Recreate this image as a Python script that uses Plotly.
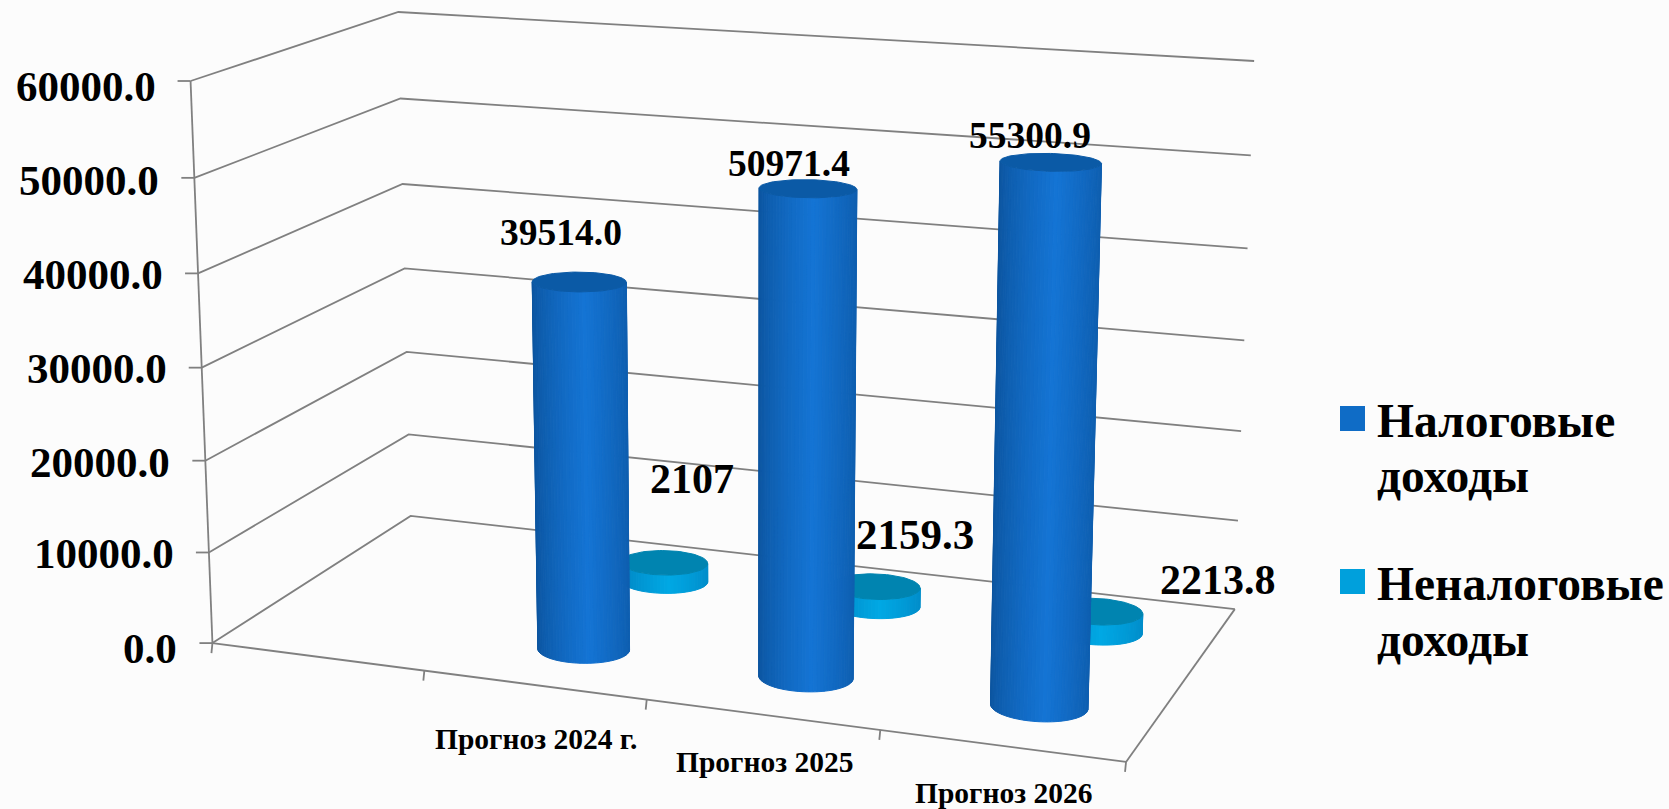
import numpy as np
import plotly.graph_objects as go

# ---- data ----
categories = ["", "Прогноз 2024 г.", "Прогноз 2025", "Прогноз 2026"]
series_names = ["Налоговые доходы", "Неналоговые доходы"]
tax_income = [None, 39514.0, 50971.4, 55300.9]
nontax_income = [None, 2107.0, 2159.3, 2213.8]
value_labels_tax = ["39514.0", "50971.4", "55300.9"]
value_labels_nontax = ["2107", "2159.3", "2213.8"]
axis_values = [0, 10000, 20000, 30000, 40000, 50000, 60000]
axis_labels = ["0.0", "10000.0", "20000.0", "30000.0", "40000.0", "50000.0", "60000.0"]
axis_max = 60000.0

# ---- view: box corners (u along categories, v depth, h height) -> page pixels ----
W, H = 1669, 809
box_world = [(0,0,0),(1,0,0),(0,1,0),(1,1,0),(0,0,1),(0,1,1),(1,1,1)]
box_page = [(213,643),(1126,762),(410,516),(1235,609),(190,81),(399,12),(1254,61)]
rows = []
for (X,Y,Z),(px,py) in zip(box_world, box_page):
    px, py = px/1000, py/1000
    rows.append([X,Y,Z,1,0,0,0,0,-px*X,-px*Y,-px*Z,-px])
    rows.append([0,0,0,0,X,Y,Z,1,-py*X,-py*Y,-py*Z,-py])
P = np.linalg.svd(np.array(rows, float))[2][-1].reshape(3,4)

def proj(u, v, value):
    h = np.asarray(value, float)/axis_max
    u, v = np.broadcast_arrays(np.asarray(u, float), np.asarray(v, float))
    w = P[2,0]*u+P[2,1]*v+P[2,2]*h+P[2,3]
    return 1000*(P[0,0]*u+P[0,1]*v+P[0,2]*h+P[0,3])/w, 1000*(P[1,0]*u+P[1,1]*v+P[1,2]*h+P[1,3])/w

FONT = "Liberation Serif"
BLACK = "#000000"
GRID = "#808080"
fig = go.Figure()

# ---- walls ----
gx, gy = [], []
for val in axis_values:
    a = proj(0,0,val); b = proj(0,1,val); c = proj(1,1,val)
    gx += [float(a[0]),float(b[0]),float(c[0]),None]
    gy += [float(a[1]),float(b[1]),float(c[1]),None]
for p,q in [((0,0,0),(0,0,axis_max)),((0,0,0),(1,0,0)),((1,0,0),(1,1,0))]:
    a = proj(*p); b = proj(*q)
    gx += [float(a[0]),float(b[0]),None]; gy += [float(a[1]),float(b[1]),None]
for val in axis_values:
    a = proj(0,0,val)
    gx += [float(a[0])-13,float(a[0]),None]; gy += [float(a[1]),float(a[1]),None]
for i in range(len(categories)+1):
    a = proj(i/len(categories),0,0)
    gx += [float(a[0]),float(a[0])-1,None]; gy += [float(a[1]),float(a[1])+10,None]
fig.add_trace(go.Scatter(x=gx,y=gy,mode="lines",line=dict(color=GRID,width=1.8),hoverinfo="skip",showlegend=False,name="grid"))

# ---- cylinders ----
def lerp(a,b,f):
    return "rgb(%d,%d,%d)"%tuple(round(a[i]+(b[i]-a[i])*f) for i in range(3))

def cylinder(uc, vc, value, name, edge, mid, top):
    ru, rv = 0.0495, 0.09
    t = np.linspace(0, 2*np.pi, 720, endpoint=False)
    bx, by = proj(uc+ru*np.cos(t), vc+rv*np.sin(t), 0*t)
    tx, ty = proj(uc+ru*np.cos(t), vc+rv*np.sin(t), 0*t+value)
    l, r = int(np.argmin(bx)), int(np.argmax(bx))
    arc1 = np.arange(l, l+((r-l)%720)+1)%720
    arc2 = np.arange(r, r+((l-r)%720)+1)%720
    arc = arc1 if by[arc1].mean() > by[arc2].mean() else arc2[::-1]
    idx = arc[np.linspace(0, len(arc)-1, 41).astype(int)]
    x0, x1 = bx[l], bx[r]
    for a, b in zip(idx[:-1], idx[1:]):
        f = ((bx[a]+bx[b])/2-x0)/(x1-x0)
        g = min(1, (1-abs(f-0.56)/0.56))
        col = lerp(edge, mid, g**0.7)
        fig.add_trace(go.Scatter(x=[bx[a],bx[b],tx[b],tx[a],bx[a]],y=[by[a],by[b],ty[b],ty[a],by[a]],
            mode="lines",fill="toself",fillcolor=col,line=dict(color=col,width=1),hoverinfo="skip",showlegend=False,name=name))
    fig.add_trace(go.Scatter(x=tx[::8],y=ty[::8],mode="lines",fill="toself",fillcolor=lerp(top,top,0),
        line=dict(color=lerp(top,top,0),width=1),hoverinfo="skip",showlegend=False,name=name))

n = len(categories)
for i in range(1, n):
    u = (i+0.5)/n
    cylinder(u+0.001, 0.745, nontax_income[i], series_names[1], (0,128,190), (0,168,228), (0,132,176))
    cylinder(u+0.005, 0.245, tax_income[i], series_names[0], (12,84,158), (20,116,212), (11,90,166))

# ---- text ----
ann = []
def text(x, y, s, size, anchor="center"):
    ann.append(dict(x=x,y=y,xref="x",yref="y",text=f"<b>{s}</b>",showarrow=False,xanchor=anchor,yanchor="middle",
                    font=dict(family=FONT,size=size,color=BLACK)))
tick_label_dy = [5,1,2,1,1,3,5]
for val, lab, dy in zip(axis_values, axis_labels, tick_label_dy):
    a = proj(0,0,val)
    text(float(a[0])-33, float(a[1])+dy, lab, 43, "right")
cat_label_dy = [54,47,47]
for i, dy in zip(range(1, n), cat_label_dy):
    a = proj((i+0.5)/n,0,0)
    text(float(a[0])+2, float(a[1])+dy, categories[i], 29.5)
for (x,y),s in zip([(561,232),(789,163),(1030,135)], value_labels_tax):
    text(x,y,s,37.5)
for (x,y),s,fs in zip([(692,479),(915,534),(1218,580)], value_labels_nontax,[42,43,42]):
    text(x,y,s,fs)

# ---- legend ----
fig.add_trace(go.Scatter(x=[1352.5],y=[418.5],mode="markers",marker=dict(symbol="square",size=25,color="#0F6CC6"),hoverinfo="skip",showlegend=False,name=series_names[0]))
fig.add_trace(go.Scatter(x=[1352.5],y=[581.5],mode="markers",marker=dict(symbol="square",size=25,color="#00A0DC"),hoverinfo="skip",showlegend=False,name=series_names[1]))
for y,s in [(421,"Налоговые"),(476,"доходы"),(584,"Неналоговые"),(640,"доходы")]:
    text(1375,y,s,47.5,"left")

fig.update_layout(width=W,height=H,margin=dict(l=0,r=0,t=0,b=0),paper_bgcolor="#fcfcfc",plot_bgcolor="#fcfcfc",
    showlegend=False,annotations=ann,
    xaxis=dict(range=[0,W],visible=False,fixedrange=True),
    yaxis=dict(range=[H,0],visible=False,fixedrange=True))
fig.write_html("out.html",config=dict(displayModeBar=False),post_script="document.body.style.margin='0';document.documentElement.style.overflow='hidden';")
